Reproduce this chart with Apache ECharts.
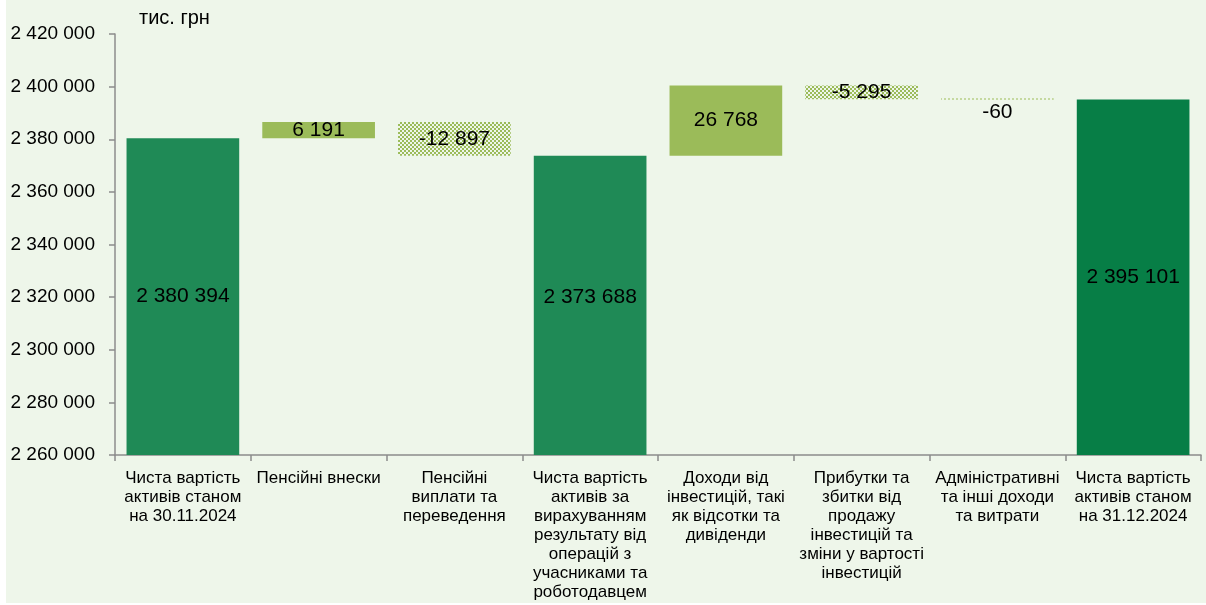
<!DOCTYPE html>
<html>
<head>
<meta charset="utf-8">
<script src="https://cdn.jsdelivr.net/npm/echarts@6/dist/echarts.min.js"></script>
<style>
  html, body { margin: 0; padding: 0; background: #ffffff; }
  #chart { position: absolute; left: 6px; top: 0; width: 1200px; height: 603px; background: #eef6ea; }
</style>
</head>
<body>
<div id="chart"></div>
<script>
// categories (x axis), with line breaks as in the original
const categories = [
  'Чиста вартість\nактивів станом\nна 30.11.2024',
  'Пенсійні внески',
  'Пенсійні\nвиплати та\nпереведення',
  'Чиста вартість\nактивів за\nвирахуванням\nрезультату від\nоперацій з\nучасниками та\nроботодавцем',
  'Доходи від\nінвестицій, такі\nяк відсотки та\nдивіденди',
  'Прибутки та\nзбитки від\nпродажу\nінвестицій та\nзміни у вартості\nінвестицій',
  'Адміністративні\nта інші доходи\nта витрати',
  'Чиста вартість\nактивів станом\nна 31.12.2024'
]
// totals are absolute values, deltas are changes
const values = [2380394, 6191, -12897, 2373688, 26768, -5295, -60, 2395101]
const kinds = ['total', 'delta', 'delta', 'total', 'delta', 'delta', 'delta', 'total']
const yMin = 2260000
const yMax = 2420000
const yStep = 20000

function fmt (v) {
  let s = Math.abs(v).toString().replace(/\B(?=(\d{3})+(?!\d))/g, ' ')
  return (v < 0 ? '-' : '') + s
}

// checker pattern for negative changes
function makePattern () {
  let c = document.createElement('canvas')
  c.width = 4
  c.height = 4
  let ctx = c.getContext('2d')
  ctx.fillStyle = '#9bbb59'
  ctx.fillRect(0, 0, 2, 2)
  ctx.fillRect(2, 2, 2, 2)
  return c
}
const hatch = { image: makePattern(), repeat: 'repeat' }

// build waterfall: invisible base + visible part
let baseData = []
let barData = []
let running = 0
for (let i = 0; i < values.length; i++) {
  let v = values[i]
  if (kinds[i] === 'total') {
    running = v
    baseData.push(0)
    let item = {
      value: v,
      itemStyle: { color: i === values.length - 1 ? '#077e46' : '#1f8a56' }
    }
    // excel puts this label a bit higher than the middle
    if (i === 3) item.label = { offset: [0, -8] }
    barData.push(item)
  } else {
    let next = running + v
    baseData.push(Math.min(running, next))
    let item = {
      value: Math.abs(v),
      sign: v,
      itemStyle: { color: v > 0 ? '#9bbb59' : hatch }
    }
    if (Math.abs(v) < 500) {
      item.label = { position: 'bottom', distance: 2 }
    }
    barData.push(item)
    running = next
  }
}

let myChart = echarts.init(document.getElementById('chart'))
let option = {
  animation: false,
  title: {
    text: 'тис. грн',
    left: 128,
    top: 3,
    textStyle: { fontFamily: 'Liberation Sans', fontSize: 20, fontWeight: 'normal', color: '#000' }
  },
  grid: { left: 109, right: 5, top: 34, bottom: 148 },
  xAxis: {
    type: 'category',
    data: categories,
    axisLine: { lineStyle: { color: '#8c8c8c', width: 1.5 } },
    axisTick: { show: true, alignWithLabel: false, length: 6, lineStyle: { color: '#8c8c8c', width: 1.5 } },
    axisLabel: {
      interval: 0,
      margin: 14,
      color: '#000',
      fontFamily: 'Liberation Sans',
      fontSize: 17,
      lineHeight: 19,
      align: 'center'
    }
  },
  yAxis: {
    type: 'value',
    min: yMin,
    max: yMax,
    interval: yStep,
    splitLine: { show: false },
    axisLine: { show: true, lineStyle: { color: '#8c8c8c', width: 1.5 } },
    axisTick: { show: true, length: 6, lineStyle: { color: '#8c8c8c', width: 1.5 } },
    axisLabel: {
      margin: 20,
      color: '#000',
      fontFamily: 'Liberation Sans',
      fontSize: 19,
      formatter: fmt
    }
  },
  series: [
    {
      type: 'bar',
      stack: 'w',
      data: baseData,
      itemStyle: { color: 'transparent' },
      barCategoryGap: '17%',
      silent: true
    },
    {
      type: 'bar',
      stack: 'w',
      data: barData,
      barCategoryGap: '17%',
      barMinHeight: 1,
      label: {
        show: true,
        position: 'inside',
        color: '#000',
        fontFamily: 'Liberation Sans',
        fontSize: 21,
        formatter: function (p) {
          return fmt(p.data.sign !== undefined ? p.data.sign : p.data.value)
        }
      }
    }
  ]
}
myChart.setOption(option)
</script>
</body>
</html>
